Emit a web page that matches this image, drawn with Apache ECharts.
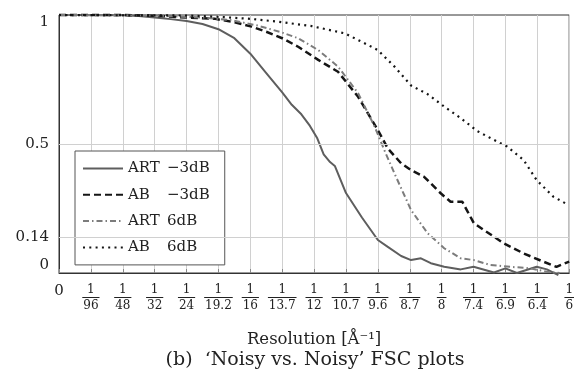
<!DOCTYPE html>
<html>
<head>
<meta charset="utf-8">
<script src="https://cdn.jsdelivr.net/npm/echarts@6/dist/echarts.min.js"></script>
<style>
  html, body { margin: 0; padding: 0; background: #fff; }
  #chart { width: 577px; height: 386px; }
</style>
</head>
<body>
<div id="chart"></div>
<script>
// x position is in steps of 1/96 Å^-1 (the axis is linear in 1/d)
const tickDenoms = ['0', '96', '48', '32', '24', '19.2', '16', '13.7', '12', '10.7', '9.6', '8.7', '8', '7.4', '6.9', '6.4', '6'];
const yTicks = [0, 0.14, 0.5, 1];
const seriesNames = ['ART −3dB', 'AB −3dB', 'ART 6dB', 'AB 6dB'];

const artM3 = [[0, 1], [1, 1], [2, 0.999], [2.5, 0.996], [3, 0.99], [3.5, 0.984], [4, 0.977], [4.5, 0.965], [5, 0.945],
  [5.5, 0.91], [6, 0.85], [6.5, 0.775], [7, 0.70], [7.3, 0.652], [7.6, 0.615], [7.87, 0.57], [8.1, 0.522], [8.3, 0.46],
  [8.5, 0.43], [8.65, 0.415], [9, 0.31], [9.5, 0.215], [10, 0.128], [10.3, 0.102], [10.73, 0.066], [11.04, 0.05],
  [11.35, 0.057], [11.66, 0.038], [12.08, 0.024], [12.6, 0.014], [13, 0.024], [13.64, 0.002], [14, 0.018],
  [14.36, 0.0], [14.98, 0.024], [15.3, 0.014], [15.66, -0.008]];
const abM3 = [[0, 1], [2, 1], [3, 0.997], [4, 0.99], [4.9, 0.985], [5.5, 0.972], [6.04, 0.955], [6.5, 0.935], [7, 0.91],
  [7.5, 0.877], [8.13, 0.826], [8.75, 0.78], [9.38, 0.683], [10, 0.554], [10.31, 0.483], [10.73, 0.425], [11.04, 0.399],
  [11.45, 0.373], [11.97, 0.309], [12.28, 0.276], [12.65, 0.276], [13.01, 0.193], [13.32, 0.167], [13.95, 0.115],
  [14.57, 0.076], [15.19, 0.044], [15.6, 0.024], [16, 0.044]];
const art6 = [[0, 1], [3, 0.998], [4.5, 0.99], [5.4, 0.98], [6.2, 0.96], [7, 0.932], [7.5, 0.91], [8.13, 0.864],
  [8.75, 0.8], [9.38, 0.697], [9.9, 0.567], [10.2, 0.477], [10.52, 0.386], [11.04, 0.244], [11.56, 0.154],
  [12.08, 0.096], [12.6, 0.057], [13.01, 0.05], [13.53, 0.031], [14.15, 0.024], [14.78, 0.018], [15.3, 0.005], [15.7, 0.0]];
const ab6 = [[0, 1], [4, 0.998], [5, 0.993], [6, 0.985], [6.88, 0.974], [7.92, 0.957], [8.96, 0.929], [9.48, 0.897],
  [10, 0.864], [10.52, 0.8], [11.04, 0.727], [11.56, 0.693], [12.08, 0.645], [12.6, 0.6], [13.12, 0.55], [13.5, 0.525],
  [14.05, 0.49], [14.57, 0.438], [14.98, 0.36], [15.5, 0.296], [15.97, 0.264]];

const serif = "'DejaVu Serif', 'Liberation Serif', serif";
const ink = '#222';

// fraction bar width roughly follows the denominator text
const barWidth = (s) => s.replace('.', '').length * 7.6 + (s.includes('.') ? 3.8 : 0) + 2;

const fracRich = {
  z: { fontFamily: serif, fontSize: 15, lineHeight: 16, color: ink },
  n: { fontFamily: serif, fontSize: 12, lineHeight: 13, color: ink },
  d: { fontFamily: serif, fontSize: 12, lineHeight: 13, color: ink }
};
tickDenoms.forEach((d, i) => {
  fracRich['l' + i] = { width: barWidth(d), height: 1, lineHeight: 3, backgroundColor: ink };
});

const chart = echarts.init(document.getElementById('chart'), null, { renderer: 'canvas' });

const lineSeries = (name, data, color, width, type) => ({
  name: name,
  type: 'line',
  data: data,
  symbol: 'none',
  clip: false,
  lineStyle: { color: color, width: width, type: type, cap: 'butt' },
  itemStyle: { color: color }
});

chart.setOption({
  animation: false,
  textStyle: { fontFamily: serif, color: ink },
  grid: { left: 59, right: 4, top: 15, bottom: 113, show: true, borderColor: '#333', borderWidth: 1 },
  xAxis: {
    type: 'value',
    min: 0,
    max: 16,
    interval: 1,
    name: 'Resolution [Å⁻¹]',
    nameLocation: 'middle',
    nameGap: 58,
    nameTextStyle: { fontFamily: serif, fontSize: 16.5, color: ink },
    axisLine: { lineStyle: { color: '#333' } },
    axisTick: { inside: true, length: 4, lineStyle: { color: '#888' } },
    splitLine: { show: true, lineStyle: { color: '#d0d0d0', width: 1 } },
    axisLabel: {
      margin: 10,
      showMinLabel: true,
      showMaxLabel: true,
      formatter: (v) => {
        const i = Math.round(v);
        const d = tickDenoms[i];
        if (d === '0') return '{z|0}';
        return '{n|1}\n{l' + i + '|}\n{d|' + d + '}';
      },
      rich: fracRich
    }
  },
  yAxis: {
    type: 'value',
    min: 0,
    max: 1,
    axisLine: { lineStyle: { color: '#333' } },
    splitLine: { show: false },
    axisTick: { show: false },
    axisLabel: {
      customValues: yTicks,
      margin: 10,
      fontFamily: serif,
      fontSize: 15,
      color: ink,
      verticalAlignMinLabel: 'bottom',
      verticalAlignMaxLabel: 'top',
      formatter: (v) => String(v)
    }
  },
  legend: {
    orient: 'vertical',
    left: 75,
    top: 151,
    padding: [10, 15, 10, 7],
    itemGap: 11.3,
    itemWidth: 40,
    itemHeight: 14,
    backgroundColor: '#fff',
    borderColor: '#555',
    borderWidth: 1,
    borderRadius: 0,
    itemStyle: { opacity: 0 },
    data: seriesNames,
    formatter: (name) => {
      const parts = name.split(' ');
      return '{a|' + parts[0] + '}{b|' + parts[1] + '}';
    },
    textStyle: {
      fontFamily: serif,
      fontSize: 15,
      lineHeight: 15,
      color: ink,
      rich: {
        a: { fontFamily: serif, fontSize: 15, width: 39, color: ink },
        b: { fontFamily: serif, fontSize: 15, color: ink }
      }
    }
  },
  graphic: [{
    type: 'text',
    x: 315,
    y: 360,
    style: {
      text: '(b)  ‘Noisy vs. Noisy’ FSC plots',
      font: '19px ' + serif,
      fill: ink,
      textAlign: 'center',
      textVerticalAlign: 'middle'
    }
  }],
  series: [
    Object.assign(lineSeries(seriesNames[0], artM3, '#5e5e5e', 2, 'solid'), {
      markLine: {
        silent: true,
        symbol: 'none',
        label: { show: false },
        lineStyle: { color: '#d0d0d0', width: 1, type: 'solid' },
        data: [{ yAxis: yTicks[1] }, { yAxis: yTicks[2] }]
      }
    }),
    lineSeries(seriesNames[1], abM3, '#151515', 2.5, [7, 4]),
    lineSeries(seriesNames[2], art6, '#7c7c7c', 2, [6, 3, 1.5, 3]),
    lineSeries(seriesNames[3], ab6, '#151515', 2.2, [2, 4.3])
  ]
});
</script>
</body>
</html>
